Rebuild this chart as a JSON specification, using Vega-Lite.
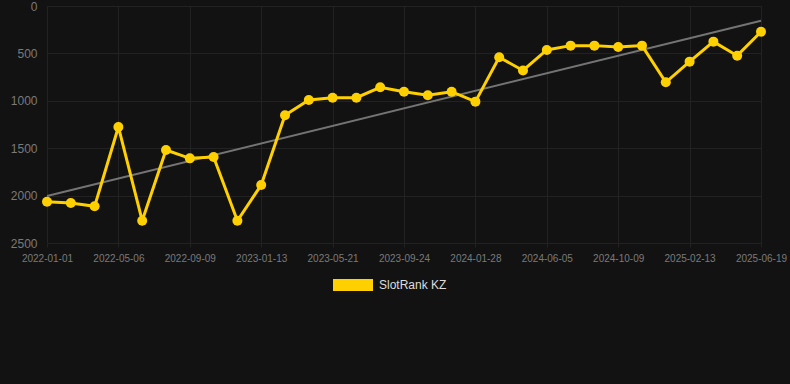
{
  "$schema": "https://vega.github.io/schema/vega-lite/v6.json",
  "autosize": {"type": "none"},
  "width": 750,
  "height": 237,
  "padding": {"left": 40, "top": 6, "right": 0, "bottom": 141},
  "background": "#121212",
  "config": {
    "view": {"stroke": null},
    "font": "Liberation Sans",
    "axis": {"gridColor": "#222222", "domain": false, "labelColor": "#7a7a7a"}
  },
  "datasets": {
    "rank": [
      {"date": "2022-01-01", "rank": 2064},
      {"date": "2022-02-12", "rank": 2078},
      {"date": "2022-03-26", "rank": 2113},
      {"date": "2022-05-06", "rank": 1276},
      {"date": "2022-06-17", "rank": 2265},
      {"date": "2022-07-29", "rank": 1519},
      {"date": "2022-09-09", "rank": 1607},
      {"date": "2022-10-21", "rank": 1593},
      {"date": "2022-12-02", "rank": 2265},
      {"date": "2023-01-13", "rank": 1888},
      {"date": "2023-02-25", "rank": 1153},
      {"date": "2023-04-09", "rank": 991},
      {"date": "2023-05-21", "rank": 967},
      {"date": "2023-07-02", "rank": 967},
      {"date": "2023-08-13", "rank": 858},
      {"date": "2023-09-24", "rank": 904},
      {"date": "2023-11-05", "rank": 942},
      {"date": "2023-12-17", "rank": 904},
      {"date": "2024-01-28", "rank": 1009},
      {"date": "2024-03-10", "rank": 541},
      {"date": "2024-04-23", "rank": 680},
      {"date": "2024-06-05", "rank": 464},
      {"date": "2024-07-17", "rank": 418},
      {"date": "2024-08-28", "rank": 418},
      {"date": "2024-10-09", "rank": 432},
      {"date": "2024-11-20", "rank": 418},
      {"date": "2025-01-02", "rank": 805},
      {"date": "2025-02-13", "rank": 587},
      {"date": "2025-03-28", "rank": 376},
      {"date": "2025-05-08", "rank": 524},
      {"date": "2025-06-19", "rank": 271}
    ],
    "trend": [
      {"date": "2022-01-01", "rank": 2004},
      {"date": "2025-06-19", "rank": 155}
    ]
  },
  "encoding": {
    "x": {
      "field": "date",
      "type": "ordinal",
      "scale": {
        "type": "point",
        "range": [7, 721],
        "padding": 0,
        "domain": ["2022-01-01", "2022-02-12", "2022-03-26", "2022-05-06", "2022-06-17", "2022-07-29", "2022-09-09", "2022-10-21", "2022-12-02", "2023-01-13", "2023-02-25", "2023-04-09", "2023-05-21", "2023-07-02", "2023-08-13", "2023-09-24", "2023-11-05", "2023-12-17", "2024-01-28", "2024-03-10", "2024-04-23", "2024-06-05", "2024-07-17", "2024-08-28", "2024-10-09", "2024-11-20", "2025-01-02", "2025-02-13", "2025-03-28", "2025-05-08", "2025-06-19"]
      },
      "sort": null,
      "axis": {
        "title": null,
        "labelAngle": 0,
        "labelFontSize": 10,
        "labelPadding": 6,
        "tickSize": 4,
        "tickColor": "#222222",
        "grid": true,
        "values": ["2022-01-01", "2022-05-06", "2022-09-09", "2023-01-13", "2023-05-21", "2023-09-24", "2024-01-28", "2024-06-05", "2024-10-09", "2025-02-13", "2025-06-19"]
      }
    },
    "y": {
      "field": "rank",
      "type": "quantitative",
      "scale": {"domain": [0, 2500], "reverse": true, "nice": false},
      "axis": {
        "title": null,
        "values": [0, 500, 1000, 1500, 2000, 2500],
        "format": "d",
        "labelFontSize": 12,
        "labelPadding": 3,
        "ticks": false,
        "grid": true
      }
    }
  },
  "layer": [
    {
      "data": {"name": "trend"},
      "mark": {"type": "line", "color": "#747474", "strokeWidth": 2}
    },
    {
      "data": {"name": "rank"},
      "mark": {"type": "line", "strokeWidth": 3},
      "encoding": {
        "color": {
          "datum": "SlotRank KZ",
          "type": "nominal",
          "scale": {"range": ["#FFD000"]},
          "legend": {
            "title": null,
            "orient": "none",
            "legendX": 293,
            "legendY": 259,
            "symbolType": "M-1,-0.3H1V0.3H-1Z",
            "symbolSize": 1600,
            "symbolFillColor": "#FFD000",
            "symbolStrokeWidth": 0,
            "labelColor": "#dddddd",
            "labelFontSize": 12,
            "labelOffset": 6
          }
        }
      }
    },
    {
      "data": {"name": "rank"},
      "mark": {"type": "point", "filled": true, "size": 100, "opacity": 1, "color": "#FFD000"}
    }
  ]
}
